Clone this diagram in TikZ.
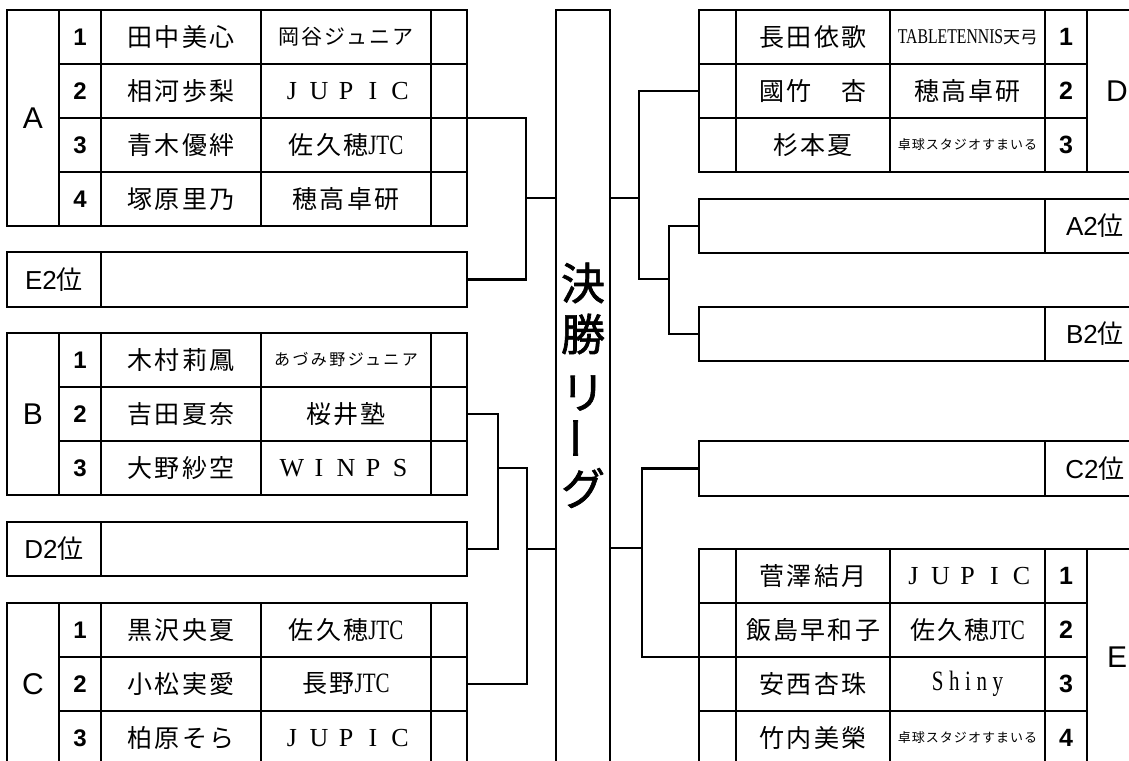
\documentclass[tikz,border=0pt]{standalone}
\usepackage{fontspec}
\setmainfont{Liberation Sans}
\newfontfamily\jp{Noto Sans CJK JP}
\newfontfamily\jpfb[FakeBold=1.5]{Noto Sans CJK JP}
\newfontfamily\sr{Liberation Serif}
\newfontfamily\src[FakeStretch=0.75]{Liberation Serif}
\newfontfamily\gs{Liberation Sans}
\newcommand\fs[1]{\fontsize{#1}{#1}\selectfont}
\newcommand\ls[1]{\addfontfeatures{LetterSpace=#1}}
\newcommand\fwl[1]{\makebox[27pt]{#1}}
\newcommand\JUPIC{{\sr\fs{26}\fwl{J}\fwl{U}\fwl{P}\fwl{I}\fwl{C}}}
\newcommand\WINPS{{\sr\fs{26}\fwl{W}\fwl{I}\fwl{N}\fwl{P}\fwl{S}}}
\newcommand\nm[1]{{\jp\fs{25}\ls{9}#1}}
\newcommand\jtc{{\src\fs{28}JTC}}
\newcommand\Lrow[5]{%
  \node[cell,minimum width=42pt,font=\gs\bfseries\fs{24}] (#1n) at (59,#2) {#3};
  \node[cell,minimum width=160pt] (#1p) at (101,#2) {\nm{#4}};
  \node[cell,minimum width=170pt] (#1c) at (261,#2) {#5};
  \node[cell,minimum width=36pt] (#1x) at (431,#2) {};}
\newcommand\Rrow[5]{%
  \node[cell,minimum width=37pt] (#1x) at (699,#2) {};
  \node[cell,minimum width=154pt] (#1p) at (736,#2) {\nm{#4}};
  \node[cell,minimum width=155pt] (#1c) at (890,#2) {#5};
  \node[cell,minimum width=42pt,font=\gs\bfseries\fs{25}] (#1n) at (1045,#2) {#3};}
\tikzset{
  cell/.style={draw, line width=2.6pt, anchor=north west, inner sep=0pt, outer sep=0pt, minimum height=54pt},
  conn/.style={line width=2.4pt},
  bigchar/.style={font=\jpfb\fs{44}, inner sep=0pt},
  lab/.style={font=\gs\fs{30}},
}
\begin{document}
\begin{tikzpicture}[x=1pt,y=-1pt]
\useasboundingbox (0,0) rectangle (1129,760);
\clip (0,0) rectangle (1129,760);
% ---------- left side ----------
\node[cell,lab,minimum width=52pt,minimum height=216pt] (A) at (7,10) {A};
\Lrow{A1}{10}{1}{田中美心}{{\jp\fs{21}\ls{10}岡谷ジュニア}}
\Lrow{A2}{64}{2}{相河歩梨}{\JUPIC}
\Lrow{A3}{118}{3}{青木優絆}{{\jp\fs{25}\ls{9}佐久穂}\jtc}
\Lrow{A4}{172}{4}{塚原里乃}{\nm{穂高卓研}}

\node[cell,minimum width=94pt,minimum height=55pt] (E2l) at (7,252) {{\gs\fs{26}E2}{\jp\fs{26}位}};
\node[cell,minimum width=366pt,minimum height=55pt] (E2) at (101,252) {};

\node[cell,lab,minimum width=52pt,minimum height=162pt] (B) at (7,333) {B};
\Lrow{B1}{333}{1}{木村莉鳳}{{\jp\fs{16}\ls{15}あづみ野ジュニア}}
\Lrow{B2}{387}{2}{吉田夏奈}{\nm{桜井塾}}
\Lrow{B3}{441}{3}{大野紗空}{\WINPS}

\node[cell,minimum width=94pt,minimum height=54pt] (D2l) at (7,522) {{\gs\fs{26}D2}{\jp\fs{26}位}};
\node[cell,minimum width=366pt,minimum height=54pt] (D2) at (101,522) {};

\node[cell,lab,minimum width=52pt,minimum height=162pt] (C) at (7,603) {C};
\Lrow{C1}{603}{1}{黒沢央夏}{{\jp\fs{25}\ls{9}佐久穂}\jtc}
\Lrow{C2}{657}{2}{小松実愛}{{\jp\fs{25}\ls{9}長野}\jtc}
\Lrow{C3}{711}{3}{柏原そら}{\JUPIC}

% ---------- centre ----------
\node[cell,minimum width=54pt,minimum height=800pt] (final) at (556,10) {};
\node[bigchar] (k1) at (583,283) {決};
\node[bigchar] (k2) at (583,334) {勝};
\node[bigchar] (k3) at (583,393) {リ};
\node[bigchar,rotate=90] (k4) at (583,438) {ー};
\node[bigchar] (k5) at (583,488) {グ};

% ---------- right side ----------
\Rrow{D1}{10}{1}{長田依歌}{{\src\fs{21}TABLETENNIS}{\jp\fs{17}天弓}}
\Rrow{D2r}{64}{2}{國竹　杏}{\nm{穂高卓研}}
\Rrow{D3}{118}{3}{杉本夏}{{\jp\fs{13}\ls{8}卓球スタジオすまいる}}
\node[cell,lab,minimum width=60pt,minimum height=162pt] (D) at (1087,10) {\makebox[50pt]{D}\hspace{10pt}};

\node[cell,minimum width=346pt,minimum height=54pt] (A2) at (699,199) {};
\node[cell,minimum width=100pt,minimum height=54pt] (A2l) at (1045,199) {\makebox[90pt]{{\gs\fs{26}A2}{\jp\fs{26}位}}\hspace{10pt}};
\node[cell,minimum width=346pt,minimum height=54pt] (B2) at (699,307) {};
\node[cell,minimum width=100pt,minimum height=54pt] (B2l) at (1045,307) {\makebox[90pt]{{\gs\fs{26}B2}{\jp\fs{26}位}}\hspace{10pt}};
\node[cell,minimum width=346pt,minimum height=55pt] (C2) at (699,441) {};
\node[cell,minimum width=100pt,minimum height=55pt] (C2l) at (1045,441) {\makebox[90pt]{{\gs\fs{26}C2}{\jp\fs{26}位}}\hspace{10pt}};

\Rrow{E1}{549}{1}{菅澤結月}{\JUPIC}
\Rrow{E2r}{603}{2}{飯島早和子}{{\jp\fs{25}\ls{9}佐久穂}\jtc}
\Rrow{E3}{657}{3}{安西杏珠}{{\src\fs{28}\ls{20}Shiny}}
\Rrow{E4}{711}{4}{竹内美榮}{{\jp\fs{13}\ls{8}卓球スタジオすまいる}}
\node[cell,lab,minimum width=60pt,minimum height=216pt] (E) at (1087,549) {\makebox[52pt]{E}\hspace{8pt}};

% ---------- connectors ----------
\coordinate (jA) at (526,198);
\coordinate (jB) at (498,468);
\coordinate (jC) at (527,549);
\coordinate (jD) at (639,198);
\coordinate (jAB) at (669,279);
\coordinate (jE) at (642,548);

\draw[conn] (A3x.north east) -| (jA) |- (E2.east);
\draw[conn] (jA) -- (final.west |- jA);
\draw[conn] (B2x.east) -| (jB) |- (D2.east);
\draw[conn] (jB) -| (jC) |- (C2x.east);
\draw[conn] (jC) -- (final.west |- jC);

\draw[conn] (final.east |- jD) -- (jD);
\draw[conn] (D2rx.west) -| (jD) |- (jAB);
\draw[conn] (A2.west) -| (jAB) |- (B2.west);
\draw[conn] (final.east |- jE) -- (jE);
\draw[conn] (C2.west) -| (jE) |- (E3x.north west);
\end{tikzpicture}
\end{document}
